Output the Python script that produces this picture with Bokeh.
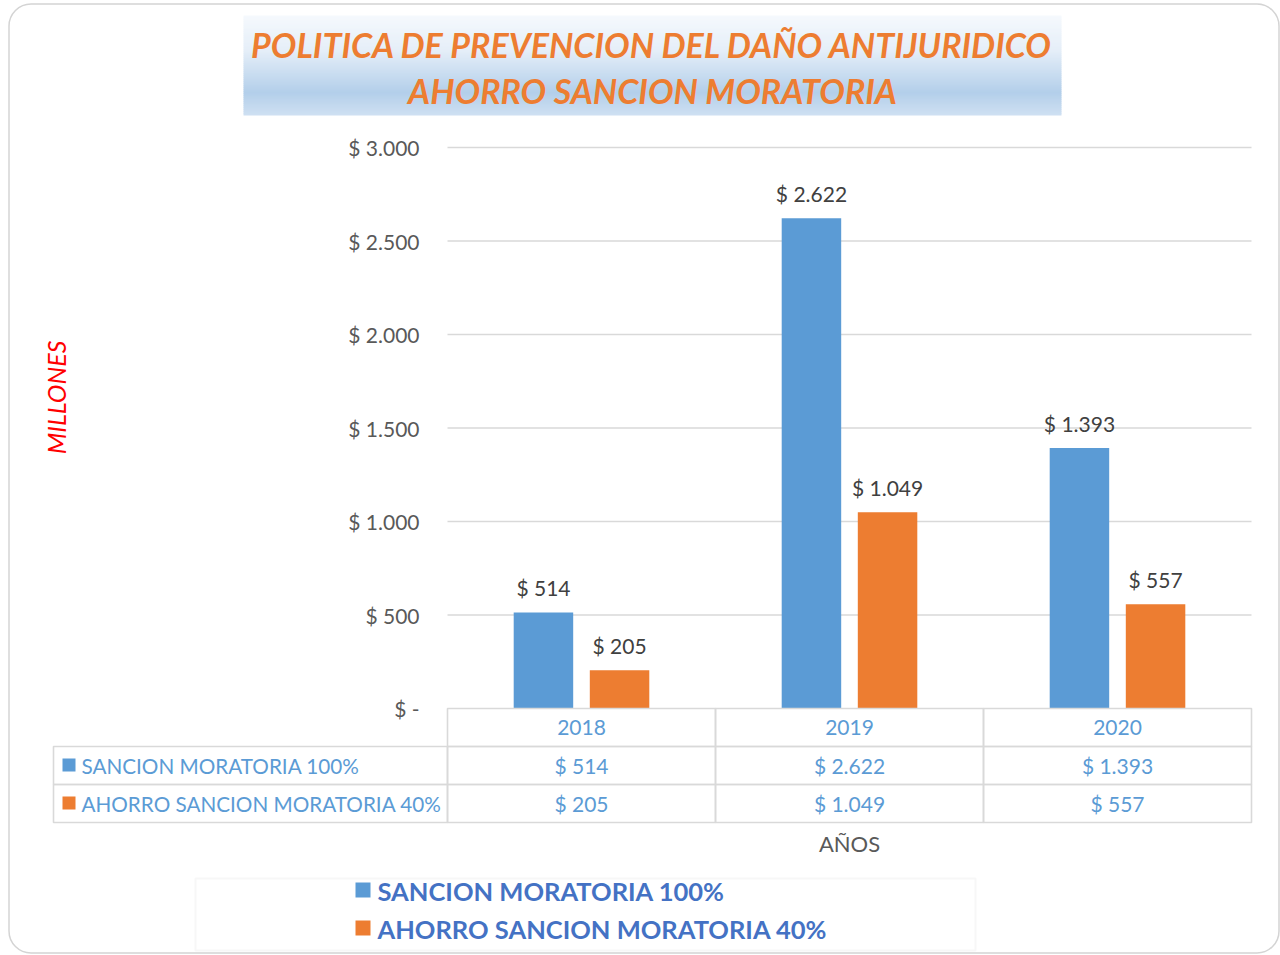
import math
from bokeh.plotting import figure
from bokeh.models import Range1d, FixedTicker, LinearAxis, ColumnDataSource
from bokeh.core.properties import value
from bokeh.transform import dodge
from bokeh.embed import file_html
from bokeh.resources import INLINE

# ---------------- data ----------------
years = [2018, 2019, 2020]
sancion = [514, 2622, 1393]
ahorro = [205, 1049, 557]
series_names = ["SANCION MORATORIA 100%", "AHORRO SANCION MORATORIA 40%"]
series_colors = ["#5b9bd5", "#ed7d31"]
y_ticks = [0, 500, 1000, 1500, 2000, 2500, 3000]
y_tick_labels = ["$ -", "$ 500", "$ 1.000", "$ 1.500", "$ 2.000", "$ 2.500", "$ 3.000"]
title_lines = ["POLITICA DE PREVENCION DEL DAÑO ANTIJURIDICO", "AHORRO SANCION MORATORIA"]
y_title = "MILLONES"
x_title = "AÑOS"


def money(v):
    return "$ " + f"{v:,}".replace(",", ".")


FONT = value("Lato")
W, H = 1280, 955
# pixel geometry of the plotting area inside the canvas
FL, FR, FT, FB = 447, 1251, 147, 708
YMAX = 3000
XPX = (FR - FL) / len(years)          # pixels per year
YPX = (FB - FT) / YMAX                # pixels per unit
X0 = years[0] - 0.5                   # data x at left edge of plot area


def X(px):
    return X0 + (px - FL) / XPX


def Y(py):
    return (FB - py) / YPX


p = figure(width=W, height=H, title=None,
           x_range=Range1d(X(0), X(W)), y_range=Range1d(Y(H), Y(0)),
           output_backend="svg", toolbar_location=None,
           x_axis_location=None, y_axis_location=None,
           min_border=0, min_border_left=0, min_border_right=0,
           min_border_top=0, min_border_bottom=0,
           border_fill_color="white", background_fill_color="white",
           outline_line_color=None)
p.grid.visible = False

# card border
p.quad(left=[X(8.5)], right=[X(1278.5)], top=[Y(3.5)], bottom=[Y(952.5)],
       fill_color=None, line_color="#d4d4d4", line_width=1.5, border_radius=22)

# gridlines (from tick values), spanning the plot area
p.segment(x0=[X(FL)] * (len(y_ticks) - 1), x1=[X(FR)] * (len(y_ticks) - 1),
          y0=y_ticks[1:], y1=y_ticks[1:], line_color="#d9d9d9", line_width=1.3)

# y axis drawn at the left edge of the plot area
yaxis = LinearAxis(fixed_location=X(FL), ticker=FixedTicker(ticks=y_ticks),
                   major_label_overrides={t: l for t, l in zip(y_ticks, y_tick_labels)},
                   axis_line_color=None, major_tick_line_color=None, minor_tick_line_color=None,
                   major_tick_out=0, major_tick_in=0, major_label_standoff=28,
                   major_label_text_font="Lato", major_label_text_font_size="21px",
                   major_label_text_color="#595959")
p.add_layout(yaxis, "left")

# bars
GAP = 25 / YPX
src = ColumnDataSource(dict(year=years, sancion=sancion, ahorro=ahorro,
                            s_ly=[v + GAP for v in sancion], a_ly=[v + GAP for v in ahorro],
                            s_lab=[money(v) for v in sancion],
                            a_lab=[money(v) for v in ahorro]))
OFF, BW = 0.142, 0.222
p.vbar(x=dodge("year", -OFF), top="sancion", width=BW, bottom=0,
       source=src, fill_color=series_colors[0], line_color=None)
p.vbar(x=dodge("year", OFF), top="ahorro", width=BW, bottom=0,
       source=src, fill_color=series_colors[1], line_color=None)
for ly, lab, o in (("s_ly", "s_lab", -OFF), ("a_ly", "a_lab", OFF)):
    p.text(x=dodge("year", o), y=ly, text=lab, source=src,
           text_align="center", text_baseline="middle",
           text_font=FONT, text_font_size=value("21px"), text_color="#404040")

# title with gradient box
stops = [(0.0, (245, 249, 253)), (0.35, (229, 238, 248)), (0.77, (179, 207, 234)), (1.0, (207, 224, 242))]


def grad(t):
    for (t0, c0), (t1, c1) in zip(stops[:-1], stops[1:]):
        if t <= t1:
            f = (t - t0) / (t1 - t0)
            return "#%02x%02x%02x" % tuple(int(round(a + (b - a) * f)) for a, b in zip(c0, c1))
    return "#%02x%02x%02x" % stops[-1][1]


TB0, TB1, NST = 15, 115, 50
st_top = [Y(TB0 + (TB1 - TB0) * k / NST) for k in range(NST)]
st_bot = [Y(min(TB1, TB0 + (TB1 - TB0) * (k + 1) / NST + 0.6)) for k in range(NST)]
p.quad(left=[X(243)] * NST, right=[X(1061)] * NST, top=st_top, bottom=st_bot,
       fill_color=[grad((k + 0.5) / NST) for k in range(NST)], line_color=None)
p.text(x=[X(652)] * 2, y=[Y(43.5), Y(90)], text=title_lines, text_align="center",
       text_baseline="middle", text_font=FONT, text_font_style="bold italic",
       text_font_size=value("34px"), text_color="#ed7d31")

# y title
p.text(x=[X(55)], y=[Y(397)], text=[y_title], angle=math.pi / 2, text_align="center",
       text_baseline="middle", text_font=FONT, text_font_style="italic",
       text_font_size=value("25px"), text_color="#ff0000")

# data table
GRID_C = "#d9d9d9"
rows_py = [(708, 746), (746, 784), (784, 822)]
cl, cr, ct, cb = [], [], [], []
for yr in years:
    for (r0, r1) in rows_py:
        cl.append(yr - 0.5); cr.append(yr + 0.5); ct.append(Y(r0)); cb.append(Y(r1))
for (r0, r1) in rows_py[1:]:
    cl.append(X(53)); cr.append(X0); ct.append(Y(r0)); cb.append(Y(r1))
p.quad(left=cl, right=cr, top=ct, bottom=cb, fill_color=None, line_color=GRID_C, line_width=1.6)

row_y = [Y((r0 + r1) / 2) for r0, r1 in rows_py]
p.text(x=years, y=[row_y[0]] * 3, text=[str(v) for v in years], text_align="center",
       text_baseline="middle", text_font=FONT, text_font_size=value("21px"), text_color="#5b9bd5")
p.text(x=years, y=[row_y[1]] * 3, text=[money(v) for v in sancion], text_align="center",
       text_baseline="middle", text_font=FONT, text_font_size=value("21px"), text_color="#5b9bd5")
p.text(x=years, y=[row_y[2]] * 3, text=[money(v) for v in ahorro], text_align="center",
       text_baseline="middle", text_font=FONT, text_font_size=value("21px"), text_color="#5b9bd5")

p.quad(left=[X(62)] * 2, right=[X(75)] * 2, top=[row_y[1] + 7 / YPX, row_y[2] + 7 / YPX],
       bottom=[row_y[1] - 6 / YPX, row_y[2] - 6 / YPX], fill_color=series_colors, line_color=None)
p.text(x=[X(81)] * 2, y=row_y[1:], text=series_names, text_align="left", text_baseline="middle",
       text_font=FONT, text_font_size=value("20.7px"), text_color="#5b9bd5")

# x title
p.text(x=[X(849)], y=[Y(843)], text=[x_title], text_align="center", text_baseline="middle",
       text_font=FONT, text_font_size=value("22px"), text_color="#595959")

# bottom legend
p.quad(left=[X(195)], right=[X(975)], top=[Y(878)], bottom=[Y(950)],
       fill_color=None, line_color="#f7f7f7", line_width=2)
leg_y = [Y(890), Y(928)]
p.quad(left=[X(355)] * 2, right=[X(370)] * 2, top=[v + 8 / YPX for v in leg_y],
       bottom=[v - 7 / YPX for v in leg_y], fill_color=series_colors, line_color=None)
p.text(x=[X(377)] * 2, y=leg_y, text=series_names, text_align="left", text_baseline="middle",
       text_font=FONT, text_font_style="bold", text_font_size=value("25.5px"), text_color="#4472c4")

open("out.html", "w").write(file_html(p, INLINE))
